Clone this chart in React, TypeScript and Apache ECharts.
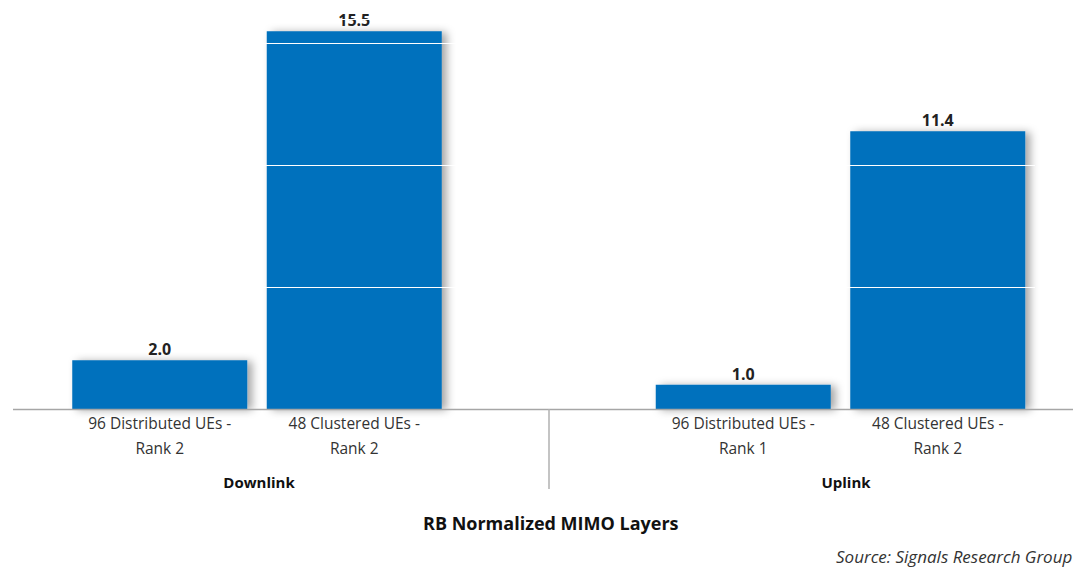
import React, { useEffect, useRef } from "react";
import * as echarts from "echarts";

const categories = [
  "96 Distributed UEs -\nRank 2",
  "48 Clustered UEs -\nRank 2",
  "",
  "96 Distributed UEs -\nRank 1",
  "48 Clustered UEs -\nRank 2",
];
const values: (number | null)[] = [2.0, 15.5, null, 1.0, 11.4];
const groupLabels = ["Downlink", "Uplink"];
const titleText = "RB Normalized MIMO Layers";
const sourceText = "Source: Signals Research Group";

const FONT = "'Open Sans', 'Liberation Sans', sans-serif";

export default function App() {
  const ref = useRef<HTMLDivElement>(null);
  useEffect(() => {
    document.body.style.margin = "0";
    const chart = echarts.init(ref.current!, null, { renderer: "svg" });
    chart.setOption({
      animation: false,
      backgroundColor: "#ffffff",
      textStyle: { fontFamily: FONT },
      title: {
        text: titleText,
        left: 418,
        top: 509,
        textStyle: { fontFamily: FONT, fontSize: 18, fontWeight: "bold", color: "#111" },
      },
      grid: { left: 62.5, right: 38, top: 19, bottom: 159, containLabel: false },
      xAxis: {
        type: "category",
        data: categories,
        axisLine: { show: false },
        axisTick: { show: false },
        axisLabel: {
          interval: 0,
          margin: 1,
          fontFamily: FONT,
          fontSize: 15.5,
          lineHeight: 25,
          color: "#333",
        },
      },
      yAxis: {
        type: "value",
        min: 0,
        max: 16,
        interval: 5,
        z: 5,
        axisLabel: { show: false },
        axisLine: { show: false },
        axisTick: { show: false },
        splitLine: { show: true, lineStyle: { color: "#ffffff", width: 1 } },
      },
      series: [
        {
          type: "bar",
          data: values,
          barWidth: 175,
          z: 2,
          itemStyle: {
            color: "#0071bd",
            shadowColor: "rgba(0,0,0,0.35)",
            shadowBlur: 8,
            shadowOffsetX: 5,
            shadowOffsetY: 1,
          },
          label: {
            show: true,
            position: "top",
            distance: 3,
            formatter: (p: any) => (p.value == null ? "" : Number(p.value).toFixed(1)),
            fontFamily: FONT,
            fontSize: 16,
            fontWeight: "bold",
            color: "#222",
          },
        },
      ],
      graphic: [
        {
          type: "line",
          shape: { x1: 13, y1: 409.5, x2: 1073, y2: 409.5 },
          style: { stroke: "#a6a6a6", lineWidth: 1.5 },
          z: 10,
        },
        {
          type: "line",
          shape: { x1: 549, y1: 409, x2: 549, y2: 489 },
          style: { stroke: "#b0b0b0", lineWidth: 1.5 },
          z: 10,
        },
        {
          type: "text",
          x: 259,
          y: 482,
          style: {
            text: groupLabels[0],
            fontFamily: FONT,
            fontSize: 15,
            fontWeight: "bold",
            fill: "#111",
            align: "center",
            verticalAlign: "middle",
          },
        },
        {
          type: "text",
          x: 846,
          y: 482,
          style: {
            text: groupLabels[1],
            fontFamily: FONT,
            fontSize: 15,
            fontWeight: "bold",
            fill: "#111",
            align: "center",
            verticalAlign: "middle",
          },
        },
        {
          type: "text",
          x: 836,
          y: 556,
          style: {
            text: sourceText,
            fontFamily: FONT,
            fontSize: 17,
            fontStyle: "italic",
            fill: "#333",
            align: "left",
            verticalAlign: "middle",
          },
        },
      ],
    });
    return () => chart.dispose();
  }, []);
  return <div ref={ref} style={{ width: 1073, height: 568 }} />;
}
